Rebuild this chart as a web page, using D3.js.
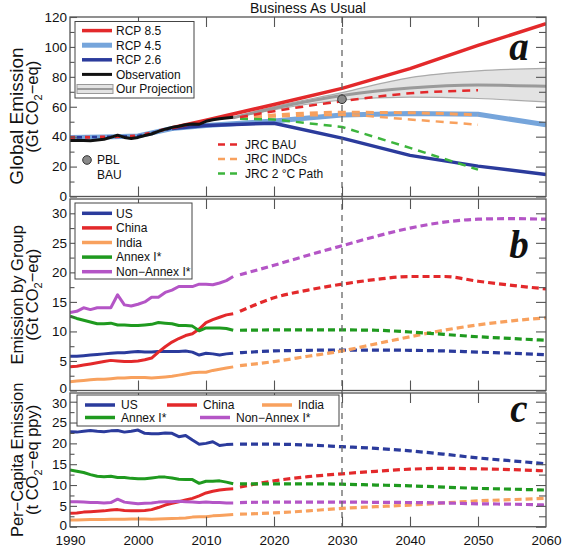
<!DOCTYPE html>
<html><head><meta charset="utf-8">
<script src="https://cdn.jsdelivr.net/npm/d3@7"></script>
<style>body{margin:0;background:#fff} text{font-family:"Liberation Sans",Arial,sans-serif;fill:#111}</style>
</head><body><svg id="c" width="562" height="547"></svg>
<script>
// ---------- DATA ----------
const histYears = d3.range(1990, 2015);
const projYears = [2015, 2020, 2025, 2030, 2035, 2040, 2045, 2050, 2055, 2060];
const xTickLabels = [1990, 2000, 2010, 2020, 2030, 2040, 2050, 2060];

// Panel a: global emission (Gt CO2-eq)
const rcpYears = [1990, 1995, 2000, 2005, 2010, 2020, 2030, 2040, 2050, 2060];
const rcp85 = [39.5, 39.8, 40.5, 46, 51, 61.5, 72.3, 85.5, 101, 115.5];
const rcp45 = [39.5, 39.8, 40.5, 45.5, 47.5, 50.5, 54.5, 55.5, 55, 48];
const rcp26 = [39.5, 39.8, 40.5, 45.5, 47.5, 49, 39, 27.5, 20.3, 14.7];
const observation = [37.5, 37.6, 37.4, 37.2, 37.8, 38.3, 39.5, 41, 39.5, 38.8, 39.5, 40.8, 41.8, 43.5, 45, 46.2, 47, 48, 48.5, 48.3, 50.3, 51.3, 52, 52.5, 53];
const projBandYears = [2014, 2020, 2030, 2040, 2050, 2060];
const projCenter = [52.7, 59, 67.5, 72.5, 74.5, 73.7];
const projUpper = [52.7, 60, 69.5, 79.5, 84, 85.6];
const projLower = [52.7, 58, 64.5, 66.5, 65.5, 63.2];
const jrcYears = [2015, 2020, 2030, 2040, 2050];
const jrcBAU = [53, 57, 63.7, 69, 71];
const jrcINDCHigh = [52.5, 54.5, 56.3, 56, 54.5];
const jrcINDCLow = [52.5, 53.5, 54.5, 51.5, 48];
const jrc2C = [52, 51.5, 46.5, 32.5, 18];
const pblBAU = {year: 2030, value: 65};

// Panel b: emission by group (Gt CO2-eq)
const grpUS = [5.8, 5.8, 5.9, 6.0, 6.1, 6.2, 6.3, 6.4, 6.4, 6.5, 6.6, 6.5, 6.5, 6.6, 6.6, 6.6, 6.6, 6.7, 6.5, 6.0, 6.3, 6.2, 6.0, 6.2, 6.3];
const grpChina = [4.0, 4.1, 4.3, 4.5, 4.7, 4.9, 5.1, 5.0, 4.9, 4.9, 5.0, 5.2, 5.5, 6.5, 7.4, 8.2, 8.8, 9.3, 9.6, 10.4, 11.5, 12.0, 12.4, 12.8, 13.0];
const grpIndia = [1.5, 1.6, 1.7, 1.8, 1.9, 1.9, 2.0, 2.1, 2.1, 2.2, 2.2, 2.2, 2.1, 2.2, 2.3, 2.4, 2.6, 2.8, 3.0, 3.1, 3.1, 3.4, 3.6, 3.8, 4.0];
const grpAnnex = [12.6, 12.2, 11.9, 11.6, 11.3, 11.3, 11.4, 11.1, 11.1, 11.0, 11.0, 11.1, 11.2, 11.5, 11.4, 11.3, 11.0, 11.0, 10.9, 10.1, 10.6, 10.6, 10.6, 10.5, 10.2];
const grpNonAnnex = [13.2, 13.4, 14.0, 13.7, 14.0, 14.0, 14.0, 16.2, 14.5, 14.3, 14.6, 15.0, 15.8, 15.8, 16.6, 17.0, 17.6, 17.6, 17.6, 18.0, 18.0, 17.9, 18.2, 18.6, 19.3];
const grpUSProj = [6.4, 6.7, 6.8, 6.85, 6.85, 6.8, 6.7, 6.5, 6.3, 6.05];
const grpChinaProj = [13.4, 15.7, 17.0, 18.0, 18.8, 19.3, 19.3, 18.5, 17.8, 17.2];
const grpIndiaProj = [4.2, 4.9, 5.8, 6.7, 7.9, 9.1, 10.2, 11.1, 11.8, 12.3];
const grpAnnexProj = [10.2, 10.25, 10.25, 10.25, 10.2, 9.9, 9.5, 9.1, 8.8, 8.5];
const grpNonAnnexProj = [19.6, 21.2, 22.9, 24.5, 26.1, 27.5, 28.5, 29.0, 29.1, 29.0];

// Panel c: per-capita emission (t CO2-eq ppy)
const pcUS = [22.8, 22.7, 22.9, 23.1, 22.9, 22.8, 23.0, 23.1, 22.7, 22.9, 23.2, 22.4, 22.3, 22.3, 22.5, 22.4, 21.6, 21.9, 20.8, 19.8, 20.0, 20.4, 19.5, 19.7, 19.8];
const pcChina = [3.2, 3.3, 3.5, 3.6, 3.7, 3.8, 4.0, 4.1, 3.9, 3.8, 3.8, 3.9, 4.1, 4.6, 5.2, 5.6, 6.0, 6.4, 6.8, 7.4, 8.1, 8.5, 8.8, 9.0, 9.1];
const pcIndia = [1.6, 1.6, 1.65, 1.7, 1.7, 1.75, 1.8, 1.8, 1.8, 1.85, 1.85, 1.85, 1.8, 1.85, 1.9, 1.95, 2.0, 2.1, 2.3, 2.4, 2.4, 2.6, 2.7, 2.8, 2.9];
const pcAnnex = [13.6, 13.3, 13.0, 12.5, 12.1, 12.0, 12.1, 11.8, 11.8, 11.6, 11.5, 11.5, 11.7, 11.9, 11.9, 11.7, 11.4, 11.3, 11.3, 10.4, 10.9, 10.9, 11.0, 10.7, 10.3];
const pcNonAnnex = [6.0, 6.0, 5.9, 5.8, 5.8, 5.7, 5.8, 6.6, 5.9, 5.7, 5.5, 5.6, 5.7, 5.9, 6.0, 6.0, 6.1, 6.0, 5.9, 5.8, 5.9, 5.8, 5.8, 5.7, 5.7];
const pcUSProj = [19.8, 19.8, 19.6, 19.2, 18.8, 18.2, 17.4, 16.5, 15.8, 15.1];
const pcChinaProj = [9.5, 11.0, 12.0, 12.7, 13.3, 13.8, 14.0, 13.9, 13.7, 13.4];
const pcIndiaProj = [3.0, 3.3, 3.8, 4.4, 4.8, 5.2, 5.7, 6.2, 6.5, 6.8];
const pcAnnexProj = [10.3, 10.3, 10.3, 10.2, 10.0, 9.8, 9.5, 9.2, 9.0, 8.8];
const pcNonAnnexProj = [5.8, 5.9, 5.9, 5.9, 5.85, 5.8, 5.7, 5.5, 5.4, 5.2];

const groupNames = ["US", "China", "India", "Annex I*", "Non\u2212Annex I*"];

// ---------- STYLE ----------
const C = {red:"#e3292b", lblue:"#76a5db", dblue:"#2b3b9c", black:"#111", orange:"#f8a15e",
  green:"#1f9a1f", jgreen:"#3db53d", purple:"#b455c6", frame:"#555"};
const groupColors = [C.dblue, C.red, C.orange, C.green, C.purple];
const TICK_FS = 13.5;

const svg = d3.select("#c");
const X0 = 70, X1 = 546;
const x = d3.scaleLinear().domain([1990, 2060]).range([X0, X1]);

const panels = [
  {id:"a", top:17, bottom:196.5, y:d3.scaleLinear().domain([0,120]).range([196.5,17]),
   major:d3.range(0,121,20), minor:d3.range(10,120,20)},
  {id:"b", top:199, bottom:390.5, y:d3.scaleLinear().domain([0,30]).range([390.5,213.3]),
   major:d3.range(0,31,5), minor:d3.range(2.5,33,5)},
  {id:"c", top:393, bottom:526.7, y:d3.scaleLinear().domain([0,30]).range([526.7,401.7]),
   major:d3.range(0,31,5), minor:d3.range(2.5,31,5)}
];
const [PA, PB, PC] = panels;

panels.forEach(p => {
  svg.append("clipPath").attr("id", "clip" + p.id).append("rect")
    .attr("x", X0).attr("y", p.top).attr("width", X1 - X0).attr("height", p.bottom - p.top);
  p.g = svg.append("g").attr("clip-path", `url(#clip${p.id})`);
});

function lineOf(p, xs, ys, curve) {
  return d3.line().x((d, i) => x(xs[i])).y(d => p.y(d)).curve(curve || d3.curveLinear)(ys);
}
function draw(p, xs, ys, color, width, dash, curve) {
  const path = p.g.append("path").attr("d", lineOf(p, xs, ys, curve)).attr("fill", "none")
    .attr("stroke", color).attr("stroke-width", width).attr("stroke-linejoin", "round");
  if (dash) path.attr("stroke-dasharray", dash);
  return path;
}

// ---------- PANEL A ----------
const band = d3.area().x((d, i) => x(projBandYears[i])).y0((d, i) => PA.y(projLower[i])).y1(d => PA.y(d)).curve(d3.curveMonotoneX);
PA.g.append("path").attr("d", band(projUpper)).attr("fill", "#e3e3e3");
draw(PA, projBandYears, projUpper, "#aaa", 1.2, null, d3.curveMonotoneX);
draw(PA, projBandYears, projLower, "#aaa", 1.2, null, d3.curveMonotoneX);
draw(PA, projBandYears, projCenter, "#9a9a9a", 3, null, d3.curveMonotoneX);

// RCP lines: historical part striped, future solid
const idxHist = rcpYears.map((y, i) => i).filter(i => rcpYears[i] <= 2005);
const idxFut = rcpYears.map((y, i) => i).filter(i => rcpYears[i] >= 2005);
const sub = (arr, idx) => idx.map(i => arr[i]);
draw(PA, rcpYears, rcp45, C.lblue, 5);
draw(PA, sub(rcpYears, idxFut), sub(rcp26, idxFut), C.dblue, 3.5);
draw(PA, sub(rcpYears, idxFut), sub(rcp85, idxFut), C.red, 3.5);
draw(PA, sub(rcpYears, idxHist), sub(rcp85, idxHist), C.red, 3, "5,10");
draw(PA, sub(rcpYears, idxHist), sub(rcp26, idxHist), C.dblue, 2.5, "5,10").attr("stroke-dashoffset", -7);

// JRC dashed
draw(PA, jrcYears, jrcINDCLow, C.orange, 2.5, "8,6", d3.curveMonotoneX);
draw(PA, jrcYears, jrcINDCHigh, C.orange, 3, "8,6", d3.curveMonotoneX);
draw(PA, jrcYears, jrc2C, C.jgreen, 2.5, "8,6");
draw(PA, jrcYears, jrcBAU, C.red, 2.5, "8,6", d3.curveMonotoneX);

draw(PA, histYears, observation, C.black, 3);

// ---------- PANEL B & C ----------
const bHist = [grpUS, grpChina, grpIndia, grpAnnex, grpNonAnnex];
const bProj = [grpUSProj, grpChinaProj, grpIndiaProj, grpAnnexProj, grpNonAnnexProj];
const cHist = [pcUS, pcChina, pcIndia, pcAnnex, pcNonAnnex];
const cProj = [pcUSProj, pcChinaProj, pcIndiaProj, pcAnnexProj, pcNonAnnexProj];
[[PB, bHist, bProj], [PC, cHist, cProj]].forEach(([p, H, P]) => {
  H.forEach((s, k) => draw(p, histYears, s, groupColors[k], 3));
  P.forEach((s, k) => draw(p, projYears, s, groupColors[k], 3.2, "7,4", d3.curveMonotoneX));
});

// ---------- 2030 dashed line ----------
svg.append("line").attr("x1", x(2030)).attr("x2", x(2030)).attr("y1", PA.top).attr("y2", PC.bottom)
  .attr("stroke", "#666").attr("stroke-width", 1.3).attr("stroke-dasharray", "6,5");

// PBL point
svg.append("circle").attr("cx", x(pblBAU.year)).attr("cy", PA.y(pblBAU.value)).attr("r", 4.3)
  .attr("fill", "#8a8a8a").attr("stroke", "#333").attr("stroke-width", 1);

// ---------- AXES & FRAMES ----------
function clean(g) { g.select(".domain").remove(); g.selectAll(".tick line").attr("stroke", C.frame).attr("stroke-width", 1.1); }
panels.forEach(p => {
  svg.append("g").attr("transform", `translate(${X0},0)`)
    .call(d3.axisLeft(p.y).tickValues(p.major).tickSizeInner(-7).tickSizeOuter(0).tickPadding(3))
    .call(clean).selectAll("text").attr("font-size", TICK_FS).attr("font-family", "Liberation Sans, Arial, sans-serif").attr("fill", "#111")
    .attr("y", d => (d === 0 && p.id !== "a") ? -2 : (d === 30 && p.id === "c") ? 1 : 0);
  svg.append("g").attr("transform", `translate(${X0},0)`)
    .call(d3.axisLeft(p.y).tickValues(p.minor.filter(v => p.y(v) > p.top + 1)).tickSizeInner(-4.5).tickSizeOuter(0).tickFormat(""))
    .call(clean);
  svg.append("g").attr("transform", `translate(${X1},0)`)
    .call(d3.axisRight(p.y).tickValues(p.major).tickSizeInner(-10).tickSizeOuter(0).tickFormat(""))
    .call(clean);
  svg.append("g").attr("transform", `translate(${X1},0)`)
    .call(d3.axisRight(p.y).tickValues(p.minor.filter(v => p.y(v) > p.top + 1)).tickSizeInner(-7).tickSizeOuter(0).tickFormat(""))
    .call(clean);
  const inner = xTickLabels.filter(v => v > 1990 && v < 2060);
  svg.append("g").attr("transform", `translate(0,${p.bottom})`)
    .call(d3.axisBottom(x).tickValues(inner).tickSizeInner(-10).tickSizeOuter(0).tickFormat("")).call(clean);
  svg.append("g").attr("transform", `translate(0,${p.top})`)
    .call(d3.axisTop(x).tickValues(inner).tickSizeInner(-10).tickSizeOuter(0).tickFormat("")).call(clean);
  svg.append("rect").attr("x", X0).attr("y", p.top).attr("width", X1 - X0).attr("height", p.bottom - p.top)
    .attr("fill", "none").attr("stroke", C.frame).attr("stroke-width", 1.3);
});
svg.append("g").attr("transform", `translate(0,${PC.bottom})`)
  .call(d3.axisBottom(x).tickValues(xTickLabels).tickFormat(d3.format("d")).tickSize(0).tickPadding(8.5))
  .call(g => g.select(".domain").remove())
  .selectAll("text").attr("font-size", TICK_FS).attr("font-family", "Liberation Sans, Arial, sans-serif").attr("fill", "#111");

// ---------- TITLES ----------
svg.append("text").attr("x", 308).attr("y", 13).attr("text-anchor", "middle").attr("font-size", 14).text("Business As Usual");

function yTitle(p, line1, pre, post, size1, cy1) {
  const cy = (p.top + p.bottom) / 2;
  svg.append("text").attr("transform", `translate(22.5,${cy1 || cy}) rotate(-90)`).attr("text-anchor", "middle")
    .attr("font-size", size1 || 16.5).text(line1);
  const t = svg.append("text").attr("transform", `translate(37.5,${cy}) rotate(-90)`).attr("text-anchor", "middle")
    .attr("font-size", 16.5);
  t.append("tspan").text(pre);
  t.append("tspan").attr("font-size", 11).attr("dy", 4).text("2");
  t.append("tspan").attr("dy", -4).text(post);
}
yTitle(PA, "Global Emission", "(Gt CO", "\u2212eq)", 19, 116);
yTitle(PB, "Emission by Group", "(Gt CO", "\u2212eq)");
yTitle(PC, "Per\u2212Capita Emission", "(t CO", "\u2212eq ppy)");

[["a", 60], ["b", 258], ["c", 422]].forEach(([l, yy]) => {
  svg.append("text").attr("x", 519).attr("y", yy).attr("text-anchor", "middle")
    .attr("font-style", "italic").attr("font-weight", "bold").attr("font-size", 39)
    .style("font-family", "'Liberation Serif', 'Times New Roman', serif").text(l);
});

// ---------- LEGENDS ----------
function legendLine(x1, y, color, width, dash) {
  const l = svg.append("line").attr("x1", x1).attr("x2", x1 + 30).attr("y1", y).attr("y2", y)
    .attr("stroke", color).attr("stroke-width", width);
  if (dash) l.attr("stroke-dasharray", dash);
}
function legendText(tx, y, s) {
  svg.append("text").attr("x", tx).attr("y", y).attr("dy", "0.36em").attr("font-size", 12).text(s);
}
// panel a legend
svg.append("rect").attr("x", 75).attr("y", 21.5).attr("width", 119).attr("height", 76.5)
  .attr("fill", "#fff").attr("stroke", "#444").attr("stroke-width", 1);
const aLeg = [["RCP 8.5", C.red, 3.5], ["RCP 4.5", C.lblue, 5], ["RCP 2.6", C.dblue, 3.5], ["Observation", C.black, 3]];
aLeg.forEach((d, i) => { const yy = 30.6 + i * 14.6; legendLine(82, yy, d[1], d[2]); legendText(116, yy, d[0]); });
const yOP = 30.6 + 4 * 14.6;
svg.append("rect").attr("x", 77).attr("y", yOP - 4.5).attr("width", 36).attr("height", 9).attr("fill", "#e3e3e3").attr("stroke", "#999");
svg.append("line").attr("x1", 77).attr("x2", 113).attr("y1", yOP).attr("y2", yOP).attr("stroke", "#9a9a9a").attr("stroke-width", 2);
legendText(116, yOP, "Our Projection");

// JRC legend
[["JRC BAU", C.red], ["JRC INDCs", C.orange], ["JRC 2 \u00B0C Path", C.jgreen]].forEach((d, i) => {
  const yy = 144.5 + i * 14.5;
  svg.append("line").attr("x1", 218).attr("x2", 238).attr("y1", yy).attr("y2", yy)
    .attr("stroke", d[1]).attr("stroke-width", 2.5).attr("stroke-dasharray", "7,5");
  legendText(245, yy, d[0]);
});
// PBL marker
svg.append("circle").attr("cx", 87).attr("cy", 160).attr("r", 4.3).attr("fill", "#8a8a8a").attr("stroke", "#333");
legendText(97, 160, "PBL");
legendText(97, 175, "BAU");

// panel b legend
svg.append("rect").attr("x", 75).attr("y", 203).attr("width", 117).attr("height", 76)
  .attr("fill", "#fff").attr("stroke", "#444").attr("stroke-width", 1);
groupNames.forEach((n, i) => { const yy = 213.3 + i * 14.6; legendLine(82, yy, groupColors[i], 3.5); legendText(116, yy, n); });

// panel c legend
svg.append("rect").attr("x", 77).attr("y", 395).attr("width", 262).attr("height", 31)
  .attr("fill", "#fff").attr("stroke", "#444").attr("stroke-width", 1);
const cPos = [[85, 405], [167, 405], [262, 405], [85, 417.5], [200, 417.5]];
groupNames.forEach((n, i) => { const [lx, yy] = cPos[i]; legendLine(lx, yy, groupColors[i], 3.5); legendText(lx + 36, yy, n); });
</script></body></html>
